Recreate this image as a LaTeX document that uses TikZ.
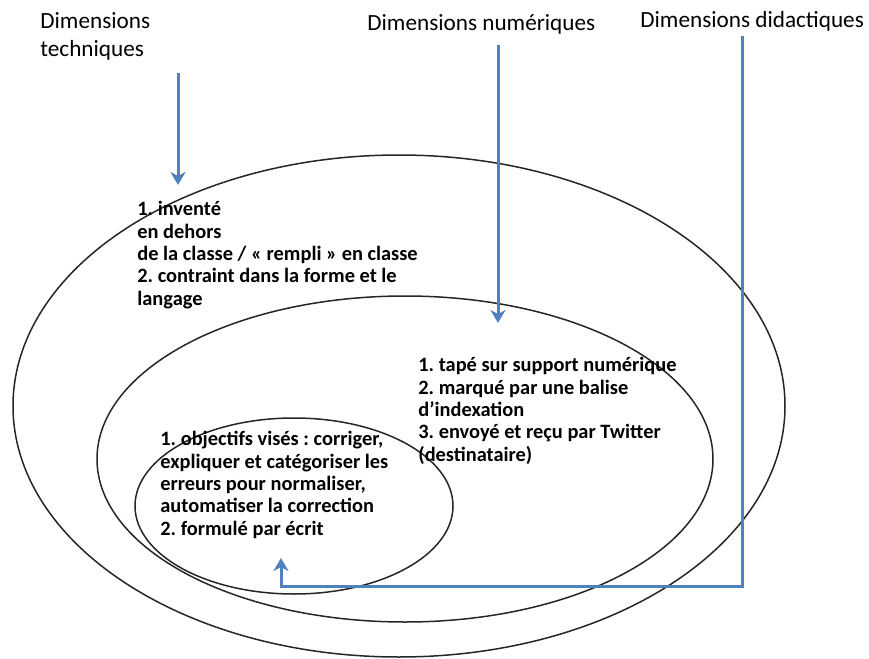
\documentclass[tikz,border=0pt]{standalone}
\usepackage{fontspec}
\setmainfont{Carlito}
\frenchspacing
\usetikzlibrary{arrows.meta, shapes.geometric, positioning}
\definecolor{arrowblue}{RGB}{79,129,189}

\tikzset{
  ring/.style={draw=black!85, line width=0.75pt, ellipse, inner sep=0pt},
  dimlabel/.style={font=\fontsize{11.6}{14}\selectfont, align=left, inner sep=0pt},
  itemtext/.style={font=\bfseries\fontsize{10.2}{11.2}\selectfont, align=left, inner sep=0pt},
  blueline/.style={draw=arrowblue, line width=1.5pt, -{Stealth[length=6.5pt, width=7.5pt, inset=2pt]}},
}

\begin{document}
\begin{tikzpicture}[x=0.5pt, y=-0.5pt]
    \useasboundingbox (0,0) rectangle (869,659);
    % Draw the three nested ellipses
    \node[ring, minimum width=386pt, minimum height=251pt] (outer) at (399,406) {};
    \node[ring, minimum width=308pt, minimum height=163pt] (middle) at (405,459) {};
    \node[ring, minimum width=159pt, minimum height=88pt] (inner) at (294,506) {};

    % Draw the dimension labels
    \node[dimlabel, anchor=north west] (techLbl) at (40,12) {Dimensions\\techniques};
    \node[dimlabel, anchor=north west] (numLbl) at (367,14) {Dimensions numériques};
    \node[dimlabel, anchor=north west] (didLbl) at (640,11) {Dimensions didactiques};

    % Draw the texts inside the ellipses
    \node[itemtext, anchor=north west] (techText) at (137,201) {1. inventé\\en dehors\\de la classe / « rempli » en classe\\2. contraint dans la forme et le\\langage};
    \node[itemtext, anchor=north west] (numText) at (418,357) {1. tapé sur support numérique\\2. marqué par une balise\\d’indexation\\3. envoyé et reçu par Twitter\\(destinataire)};
    \node[itemtext, anchor=north west] (didText) at (160,431) {1. objectifs visés : corriger,\\expliquer et catégoriser les\\erreurs pour normaliser,\\automatiser la correction\\2. formulé par écrit};

    % Draw the arrows
    \coordinate (techStart) at (178,73);
    \coordinate (techEnd) at (178,185);
    \coordinate (numStart) at (498,45);
    \coordinate (numEnd) at (498,323);
    \coordinate (didStart) at (742,36);
    \coordinate (didCorner) at (742,586);
    \coordinate (didEnd) at (281,558);
    \draw[blueline] (techStart) -- (techEnd);
    \draw[blueline] (numStart) -- (numEnd);
    \draw[blueline] (didStart) -- (didCorner) -| (didEnd);
\end{tikzpicture}
\end{document}
